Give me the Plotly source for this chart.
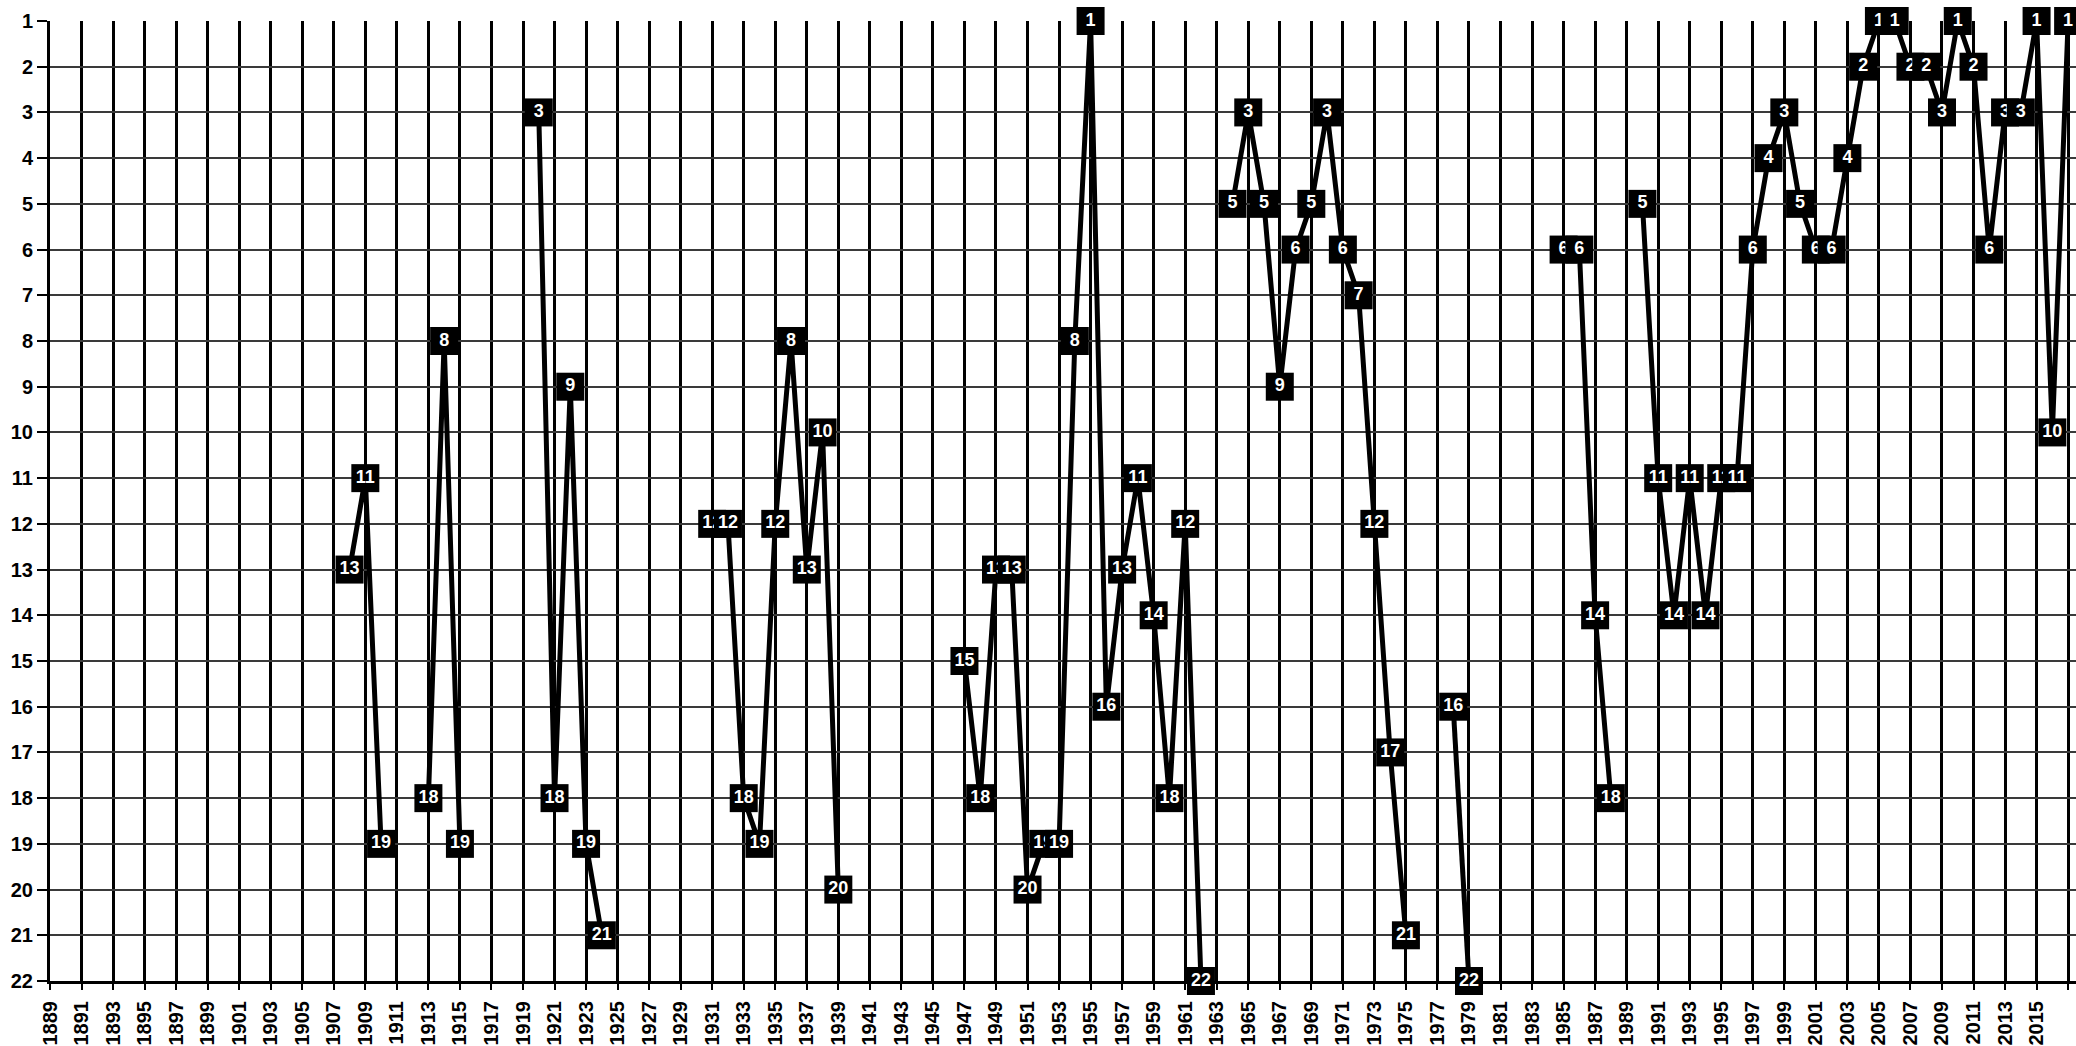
import plotly.graph_objects as go

# ---- data ----
first_year = 1889
last_year = 2017

data_years = [
    1908, 1909, 1910,
    1913, 1914, 1915,
    1920, 1921, 1922, 1923, 1924,
    1931, 1932, 1933, 1934, 1935, 1936, 1937, 1938, 1939,
    1947, 1948, 1949, 1950, 1951, 1952, 1953, 1954, 1955, 1956, 1957, 1958,
    1959, 1960, 1961, 1962,
    1964, 1965, 1966, 1967, 1968, 1969, 1970, 1971, 1972, 1973, 1974, 1975,
    1978, 1979,
    1985, 1986, 1987, 1988,
    1990, 1991, 1992, 1993, 1994, 1995, 1996, 1997, 1998, 1999, 2000, 2001,
    2002, 2003, 2004, 2005, 2006, 2007, 2008, 2009, 2010, 2011, 2012, 2013,
    2014, 2015, 2016, 2017,
]
data_ranks = [
    13, 11, 19,
    18, 8, 19,
    3, 18, 9, 19, 21,
    12, 12, 18, 19, 12, 8, 13, 10, 20,
    15, 18, 13, 13, 20, 19, 19, 8, 1, 16, 13, 11,
    14, 18, 12, 22,
    5, 3, 5, 9, 6, 5, 3, 6, 7, 12, 17, 21,
    16, 22,
    6, 6, 14, 18,
    5, 11, 14, 11, 14, 11, 11, 6, 4, 3, 5, 6,
    6, 4, 2, 1, 1, 2, 2, 3, 1, 2, 6, 3,
    3, 1, 10, 1,
]
rank_ticks = list(range(1, 23))
year_ticks = list(range(first_year, last_year + 1, 2))

# full yearly series with gaps
all_years = list(range(first_year, last_year + 1))
lookup = dict(zip(data_years, data_ranks))
all_ranks = [lookup.get(y) for y in all_years]

FONT = "Liberation Sans, Arial, Helvetica, sans-serif"

fig = go.Figure()

# connecting line (gaps left open)
fig.add_trace(go.Scatter(
    x=all_years, y=all_ranks, mode="lines",
    line=dict(color="black", width=5),
    connectgaps=False, hoverinfo="skip", showlegend=False,
    cliponaxis=False,
))

# one trace per point so each later box covers the previous label
for yr, rk in zip(data_years, data_ranks):
    fig.add_trace(go.Scatter(
        x=[yr], y=[rk], mode="markers+text",
        marker=dict(symbol="square", size=28, color="black",
                    line=dict(width=0)),
        text=[str(rk)], textposition="middle center",
        textfont=dict(family=FONT, size=18, color="white", weight="bold"),
        showlegend=False, cliponaxis=False,
    ))

fig.update_layout(
    width=2076, height=1046,
    margin=dict(l=50, r=0, t=21, b=65),
    paper_bgcolor="white", plot_bgcolor="white",
    showlegend=False,
    font=dict(family=FONT, color="black"),
)

fig.update_xaxes(
    range=[first_year, last_year + 0.5],
    tickmode="array", tickvals=year_ticks,
    ticktext=[str(v) for v in year_ticks],
    tickangle=-90,
    tickfont=dict(family=FONT, size=20, color="black", weight="bold"),
    ticks="outside", ticklen=6, tickwidth=2, tickcolor="black",
    ticklabelstandoff=3,
    showgrid=True, gridcolor="black", gridwidth=3,
    showline=True, linecolor="black", linewidth=3,
    zeroline=False, layer="below traces", automargin=False,
)

fig.update_yaxes(
    range=[22, 1],
    tickmode="array", tickvals=rank_ticks,
    ticktext=[str(v) for v in rank_ticks],
    tickfont=dict(family=FONT, size=20, color="black", weight="bold"),
    ticks="outside", ticklen=10, tickwidth=2, tickcolor="black",
    showgrid=True, gridcolor="#3a3a3a", gridwidth=2,
    showline=True, linecolor="black", linewidth=3,
    zeroline=False, layer="below traces", automargin=False,
)

fig.write_html(
    "out.html",
    config={"displayModeBar": False},
    post_script="document.body.style.margin='0';document.body.style.overflow='hidden';",
)
